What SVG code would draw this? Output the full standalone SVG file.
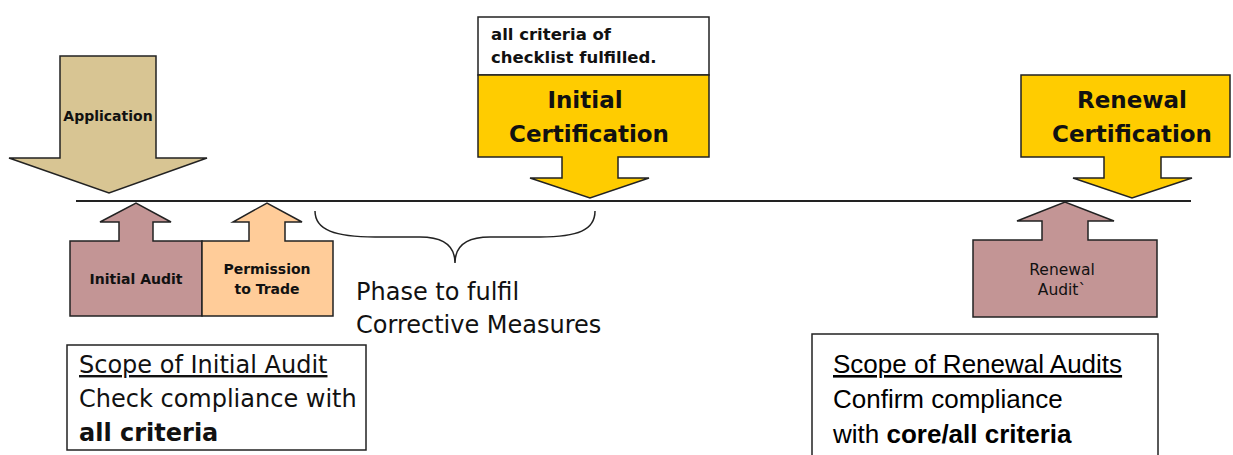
<svg xmlns="http://www.w3.org/2000/svg" width="1233" height="455" viewBox="0 0 1233 455">
<style>
.arr{stroke:#222;stroke-width:1.5;stroke-linejoin:miter}
.t{font-family:"DejaVu Sans",Verdana,sans-serif;fill:#111}
.b{font-weight:bold}
.c{font-family:"Liberation Sans",Arial,sans-serif;fill:#000}
.box{fill:#fff;stroke:#222;stroke-width:1.5}
</style>
<rect width="1233" height="455" fill="#fff"/>
<g id="connectors">
<line x1="76" y1="201" x2="1191" y2="201" stroke="#222" stroke-width="2"/>
<path d="M315,211 C315,230 335,237 375,237 H420 C442,237 455,245 455,263 C455,245 468,237 490,237 H540 C578,237 595,230 595,211" fill="none" stroke="#222" stroke-width="1.5"/>
</g>
<g id="application">
<path class="arr" fill="#D8C593" d="M60,56 H156 V158 H207 L109,193 L9,158 H60 Z"/>
<text class="t b" x="108" y="121" font-size="14" text-anchor="middle">Application</text>
</g>
<g id="initial-audit">
<path class="arr" fill="#C39595" d="M70,241 H119 V222 H100 L136,203 L171,222 H153 V241 H202 V316 H70 Z"/>
<text class="t b" x="136" y="284" font-size="14" text-anchor="middle">Initial Audit</text>
</g>
<g id="permission">
<path class="arr" fill="#FFCC99" d="M202,241 H249 V222 H233 L267,203 L302,222 H285 V241 H333 V316 H202 Z"/>
<text class="t b" x="267" y="274" font-size="14" text-anchor="middle">Permission</text>
<text class="t b" x="267" y="294" font-size="14" text-anchor="middle">to Trade</text>
</g>
<g id="phase">
<text class="t" x="356" y="300" font-size="24">Phase to fulfil</text>
<text class="t" x="356" y="333" font-size="24">Corrective Measures</text>
</g>
<g id="initial-certification">
<rect class="box" x="478" y="17" width="231" height="58"/>
<text class="t b" x="491" y="40" font-size="16.5">all criteria of</text>
<text class="t b" x="491" y="63" font-size="16.5">checklist fulfilled.</text>
<path class="arr" fill="#FFCC00" d="M478,75 H709 V157 H618 V178 H649 L590,198 L530,178 H562 V157 H478 Z"/>
<text class="t b" x="585" y="108" font-size="23" text-anchor="middle">Initial</text>
<text class="t b" x="589" y="142" font-size="23" text-anchor="middle">Certification</text>
</g>
<g id="renewal-certification">
<path class="arr" fill="#FFCC00" d="M1021,75 H1230 V157 H1161 V178 H1192 L1132,198 L1073,178 H1104 V157 H1021 Z"/>
<text class="t b" x="1132" y="108" font-size="23" text-anchor="middle">Renewal</text>
<text class="t b" x="1132" y="142" font-size="23" text-anchor="middle">Certification</text>
</g>
<g id="renewal-audit">
<path class="arr" fill="#C39595" d="M973,240 H1042 V221 H1017 L1065,202 L1114,221 H1088 V240 H1157 V317 H973 Z"/>
<text class="t" x="1062" y="275" font-size="15.5" text-anchor="middle">Renewal</text>
<text class="t" x="1062" y="295" font-size="15.5" text-anchor="middle">Audit`</text>
</g>
<g id="scope-initial">
<rect class="box" x="67" y="345" width="299" height="105"/>
<text class="t" x="79" y="373" font-size="24" text-decoration="underline">Scope of Initial Audit</text>
<text class="t" x="79" y="407" font-size="24">Check compliance with</text>
<text class="t b" x="79" y="441" font-size="24">all criteria</text>
</g>
<g id="scope-renewal">
<rect class="box" x="812" y="334" width="346" height="130"/>
<text class="c" x="833" y="373" font-size="26" text-decoration="underline">Scope of Renewal Audits</text>
<text class="c" x="833" y="408" font-size="26">Confirm compliance</text>
<text class="c" x="833" y="443" font-size="26">with <tspan font-weight="bold">core/all criteria</tspan></text>
</g>
</svg>
